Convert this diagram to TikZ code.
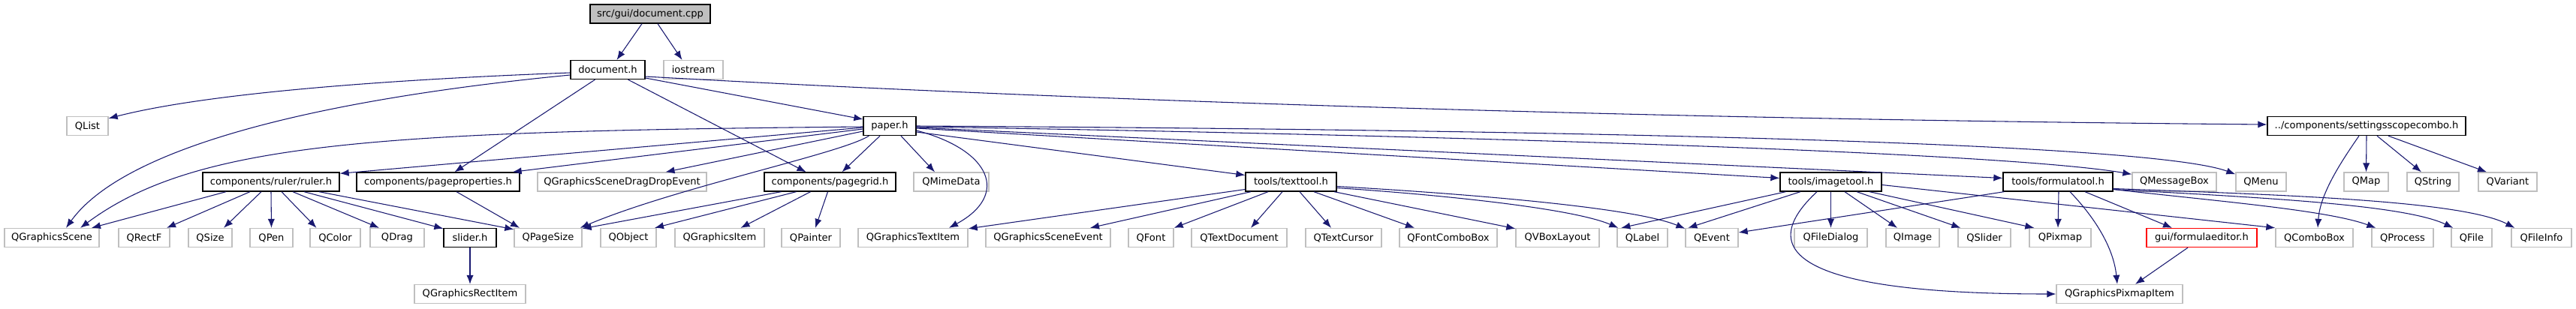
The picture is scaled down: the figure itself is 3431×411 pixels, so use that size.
\documentclass[tikz,border=0pt]{standalone}
\usepackage{fontspec}
\setmainfont{DejaVu Sans}
\usetikzlibrary{calc,arrows.meta}
\definecolor{edgeblue}{HTML}{191970}
\definecolor{greyb}{HTML}{BFBFBF}
\newcommand\nd[5]{\node[#1, minimum width=#4*0.75pt] (#2) at (#3) {#5};}
\begin{document}
\begin{tikzpicture}[x=0.75pt,y=-0.75pt,
  base/.style={rectangle, inner sep=0pt, minimum height=18.75pt, font=\fontsize{9.8pt}{11pt}\selectfont, text=black},
  mainbox/.style={base, draw=black, line width=1pt, fill=greyb},
  intbox/.style={base, draw=black, line width=1pt, fill=white},
  extbox/.style={base, draw=greyb, line width=1pt, fill=white},
  redbox/.style={base, draw=red, line width=1pt, fill=white},
  e/.style={draw=edgeblue, line width=0.8pt, -{Latex[length=9pt,width=7pt]}}]
\useasboundingbox (0,0) rectangle (3431,411);
% row 0
\nd{mainbox}{doccpp}{866,18.5}{160}{src/gui/document.cpp}
% row 1
\nd{intbox}{doch}{809.5,93}{99}{document.h}
\nd{extbox}{iostream}{923.5,93}{79}{iostream}
% row 2
\nd{extbox}{qlist}{116.5,168}{55}{QList}
\nd{intbox}{paper}{1185,168}{70}{paper.h}
\nd{intbox}{ssc}{3152,168}{264}{../components/settingsscopecombo.h}
% row 3
\nd{intbox}{ruler}{361,242.5}{182}{components/ruler/ruler.h}
\nd{intbox}{pageprop}{583.5,242.5}{217}{components/pageproperties.h}
\nd{extbox}{qgsdde}{828.5,242.5}{225}{QGraphicsSceneDragDropEvent}
\nd{intbox}{pagegrid}{1105.5,242.5}{175}{components/pagegrid.h}
\nd{extbox}{qmime}{1267,242.5}{100}{QMimeData}
\nd{intbox}{texttool}{1719.5,242.5}{121}{tools/texttool.h}
\nd{intbox}{imagetool}{2438.5,242.5}{135}{tools/imagetool.h}
\nd{intbox}{formulatool}{2741,242.5}{146}{tools/formulatool.h}
\nd{extbox}{qmsgbox}{2896,242.5}{112}{QMessageBox}
\nd{extbox}{qmenu}{3011.5,242.5}{67}{QMenu}
\nd{extbox}{qmap}{3151.5,242.5}{59}{QMap}
\nd{extbox}{qstring}{3240.5,242.5}{69}{QString}
\nd{extbox}{qvariant}{3340,242.5}{78}{QVariant}
% row 4
\nd{extbox}{qgscene}{69,317}{126}{QGraphicsScene}
\nd{extbox}{qrectf}{192,317}{68}{QRectF}
\nd{extbox}{qsize}{280,317}{58}{QSize}
\nd{extbox}{qpen}{361.5,317}{57}{QPen}
\nd{extbox}{qcolor}{446.5,317}{67}{QColor}
\nd{extbox}{qdrag}{529,317}{72}{QDrag}
\nd{intbox}{slider}{626,317}{70}{slider.h}
\nd{extbox}{qpagesize}{730,317}{90}{QPageSize}
\nd{extbox}{qobject}{837,317}{74}{QObject}
\nd{extbox}{qgitem}{958.5,317}{119}{QGraphicsItem}
\nd{extbox}{qpainter}{1080,317}{78}{QPainter}
\nd{extbox}{qgtextitem}{1216,317}{146}{QGraphicsTextItem}
\nd{extbox}{qgsevent}{1396,317}{166}{QGraphicsSceneEvent}
\nd{extbox}{qfont}{1533,317}{60}{QFont}
\nd{extbox}{qtextdoc}{1650.5,317}{127}{QTextDocument}
\nd{extbox}{qtextcursor}{1789.5,317}{101}{QTextCursor}
\nd{extbox}{qfontcombo}{1929,317}{130}{QFontComboBox}
\nd{extbox}{qvbox}{2074.5,317}{111}{QVBoxLayout}
\nd{extbox}{qlabel}{2187.5,317}{67}{QLabel}
\nd{extbox}{qevent}{2280,317}{70}{QEvent}
\nd{extbox}{qfiledialog}{2438.5,317}{97}{QFileDialog}
\nd{extbox}{qimage}{2547.5,317}{71}{QImage}
\nd{extbox}{qslider}{2643,317}{70}{QSlider}
\nd{extbox}{qpixmap}{2744,317}{82}{QPixmap}
\nd{redbox}{formulaeditor}{2932.5,317}{147}{gui/formulaeditor.h}
\nd{extbox}{qcombobox}{3082.5,317}{103}{QComboBox}
\nd{extbox}{qprocess}{3200,317}{82}{QProcess}
\nd{extbox}{qfile}{3292,317}{54}{QFile}
\nd{extbox}{qfileinfo}{3385,317}{80}{QFileInfo}
% row 5
\nd{extbox}{qgrectitem}{626,392}{148}{QGraphicsRectItem}
\nd{extbox}{qgpixmapitem}{2823,392}{168}{QGraphicsPixmapItem}

% document.cpp
\draw[e] ($(doccpp.south)+(-11,0)$) -- ($(doch.north)+(12,0)$);
\draw[e] ($(doccpp.south)+(10,0)$) -- ($(iostream.north)+(-15,0)$);
% document.h
\draw[e] ($(doch.west)+(0,4)$) .. controls (600,103) and (300,118) .. ($(qlist.north east)+(0,3)$);
\draw[e] ($(doch.west)+(0,7)$) .. controls (450,130) and (170,190) .. ($(qgscene.north)+(19,0)$);
\draw[e] ($(doch.south)+(-17,0)$) -- ($(pageprop.north)+(22,0)$);
\draw[e] ($(doch.south)+(27,0)$) -- ($(pagegrid.north)+(-32,0)$);
\draw[e] ($(doch.east)+(0,11)$) -- ($(paper.west)+(0,-9)$);
\draw[e] ($(doch.east)+(0,9)$) .. controls (1500,138) and (2300,160) .. ($(ssc.west)+(0,-2)$);
% paper.h
\draw[e] ($(paper.west)+(0,1)$) .. controls (500,175) and (260,190) .. ($(qgscene.north)+(38,0)$);
\draw[e] ($(paper.west)+(0,2)$) -- ($(ruler.north east)+(0,2)$);
\draw[e] ($(paper.west)+(0,4)$) -- ($(pageprop.north east)+(-10,0)$);
\draw[e] ($(paper.west)+(0,7)$) -- ($(qgsdde.north)+(58,0)$);
\draw[e] ($(paper.south west)+(8,0)$) .. controls (1120,205) and (900,250) .. ($(qpagesize.north east)+(-3,0)$);
\draw[e] ($(paper.south)+(-13,0)$) -- ($(pagegrid.north)+(16,0)$);
\draw[e] ($(paper.south)+(15,0)$) -- ($(qmime.north)+(-22,0)$);
\draw[e] ($(paper.east)+(0,6)$) .. controls (1320,200) and (1345,260) .. ($(qgtextitem.north)+(48,0)$);
\draw[e] ($(paper.east)+(0,8)$) -- ($(texttool.west)+(0,-9)$);
\draw[e] ($(paper.east)+(0,3)$) -- ($(imagetool.west)+(0,-5)$);
\draw[e] ($(paper.east)+(0,2)$) -- ($(formulatool.west)+(0,-5)$);
\draw[e] ($(paper.east)+(0,1)$) .. controls (1800,178) and (2650,200) .. ($(qmsgbox.north west)+(0,3)$);
\draw[e] ($(paper.east)+(0,0)$) .. controls (1900,172) and (2850,185) .. ($(qmenu.north west)+(0,3)$);
% ruler.h
\draw[e] ($(ruler.south)+(-60,0)$) -- ($(qgscene.north)+(53,0)$);
\draw[e] ($(ruler.south)+(-28,0)$) -- ($(qrectf.north)+(30,0)$);
\draw[e] ($(ruler.south)+(-13,0)$) -- ($(qsize.north)+(18,0)$);
\draw[e] (ruler.south) -- (qpen.north);
\draw[e] ($(ruler.south)+(14,0)$) -- ($(qcolor.north)+(-25,0)$);
\draw[e] ($(ruler.south)+(29,0)$) -- ($(qdrag.north)+(-24,0)$);
\draw[e] ($(ruler.south)+(44,0)$) -- ($(slider.north west)+(0,1)$);
\draw[e] ($(ruler.south)+(64,0)$) -- ($(qpagesize.north west)+(0,2)$);
% pageproperties.h
\draw[e] ($(pageprop.south)+(24.5,0)$) -- ($(qpagesize.north)+(-38,0)$);
% pagegrid.h
\draw[e] ($(pagegrid.south)+(-65,0)$) -- ($(qpagesize.north east)+(0,1)$);
\draw[e] ($(pagegrid.south)+(-45,0)$) -- ($(qobject.north)+(35,0)$);
\draw[e] ($(pagegrid.south)+(-26,0)$) -- ($(qgitem.north)+(28,0)$);
\draw[e] ($(pagegrid.south)+(-3,0)$) -- ($(qpainter.north)+(6,0)$);
% slider.h
\draw[e] (slider.south) -- (qgrectitem.north);
% texttool.h
\draw[e] ($(texttool.west)+(0,10)$) -- ($(qgtextitem.north east)+(0,1)$);
\draw[e] ($(texttool.south)+(-53.5,0)$) -- ($(qgsevent.north)+(56,0)$);
\draw[e] ($(texttool.south)+(-30.5,0)$) -- (qfont.north east);
\draw[e] ($(texttool.south)+(-11.5,0)$) -- ($(qtextdoc.north)+(15.5,0)$);
\draw[e] ($(texttool.south)+(11.5,0)$) -- ($(qtextcursor.north)+(-16.5,0)$);
\draw[e] ($(texttool.south)+(30.5,0)$) -- ($(qfontcombo.north)+(-45,0)$);
\draw[e] ($(texttool.south)+(57.5,0)$) -- ($(qvbox.north west)+(0,1)$);
\draw[e] ($(texttool.east)+(0,8)$) .. controls (1950,262) and (2100,280) .. ($(qlabel.north west)+(2,0)$);
\draw[e] ($(texttool.east)+(0,6)$) .. controls (1980,260) and (2180,278) .. ($(qevent.north west)+(0,1)$);
% imagetool.h
\draw[e] ($(imagetool.south)+(-60,0)$) -- ($(qlabel.north west)+(6,0)$);
\draw[e] ($(imagetool.south)+(-40.5,0)$) -- ($(qevent.north west)+(4,0)$);
\draw[e] ($(imagetool.south)+(-18.5,0)$) .. controls (2340,330) and (2380,392) .. (qgpixmapitem.west);
\draw[e] (imagetool.south) -- (qfiledialog.north);
\draw[e] ($(imagetool.south)+(18.5,0)$) -- ($(qimage.north)+(-20.5,0)$);
\draw[e] ($(imagetool.south)+(34.5,0)$) -- ($(qslider.north west)+(4,0)$);
\draw[e] ($(imagetool.south)+(51.5,0)$) -- ($(qpixmap.north west)+(7,0)$);
\draw[e] ($(imagetool.east)+(0,4)$) -- (qcombobox.north west);
% formulatool.h
\draw[e] ($(formulatool.south west)+(2,0)$) -- ($(qevent.east)+(0,-7)$);
\draw[e] ($(formulatool.south)+(1,0)$) -- ($(qpixmap.north)+(-3,0)$);
\draw[e] ($(formulatool.south)+(16,0)$) .. controls (2790,290) and (2815,330) .. ($(qgpixmapitem.north)+(-3,0)$);
\draw[e] ($(formulatool.south)+(36,0)$) -- ($(formulaeditor.north)+(-39.5,0)$);
\draw[e] ($(formulatool.east)+(0,10)$) .. controls (2950,268) and (3100,280) .. ($(qprocess.north west)+(6,0)$);
\draw[e] ($(formulatool.east)+(0,10)$) .. controls (3000,263) and (3200,272) .. ($(qfile.north west)+(3,0)$);
\draw[e] ($(formulatool.east)+(0,9)$) .. controls (3050,260) and (3280,268) .. ($(qfileinfo.north west)+(5,0)$);
% formulaeditor.h
\draw[e] ($(formulaeditor.south)+(-18.5,0)$) -- ($(qgpixmapitem.north)+(21,0)$);
% settingsscopecombo.h
\draw[e] ($(ssc.south)+(-10,0)$) .. controls (3115,220) and (3090,260) .. ($(qcombobox.north)+(4.5,0)$);
\draw[e] (ssc.south) -- (qmap.north);
\draw[e] ($(ssc.south)+(14,0)$) -- ($(qstring.north)+(-15.5,0)$);
\draw[e] ($(ssc.south)+(29,0)$) -- ($(qvariant.north)+(-28,0)$);
\end{tikzpicture}
\end{document}
